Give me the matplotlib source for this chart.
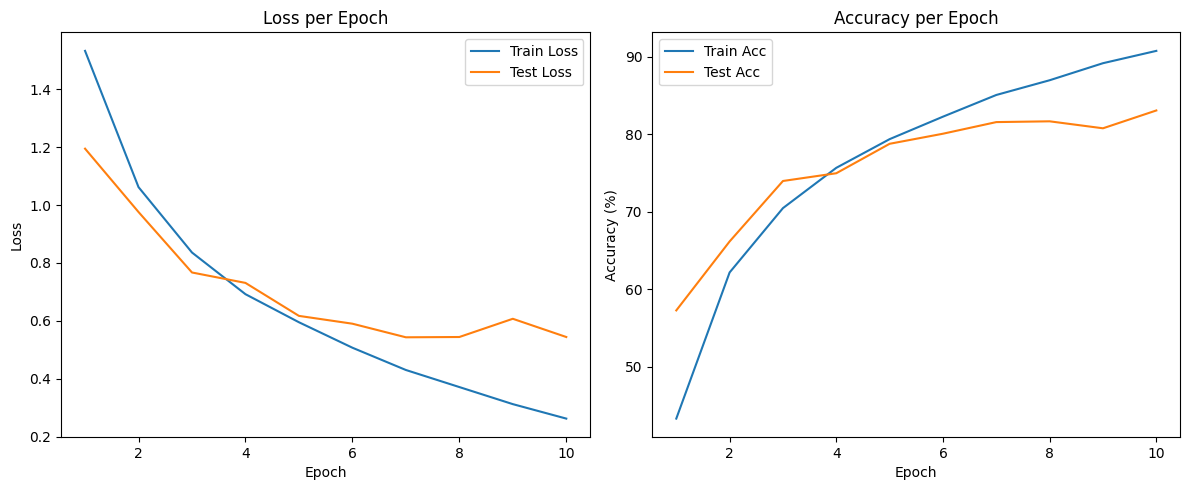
import numpy as np
import matplotlib
matplotlib.use('Agg')
import matplotlib.pyplot as plt

epochs = [1, 2, 3, 4, 5, 6, 7, 8, 9, 10]
train_loss = [1.533, 1.062, 0.836, 0.692, 0.595, 0.507, 0.430, 0.371, 0.312, 0.262]
test_loss = [1.195, 0.976, 0.767, 0.731, 0.617, 0.590, 0.543, 0.544, 0.607, 0.544]
train_acc = [43.34, 62.2, 70.5, 75.7, 79.4, 82.3, 85.1, 87.0, 89.2, 90.79]
test_acc = [57.3, 66.2, 74.0, 75.0, 78.8, 80.1, 81.6, 81.7, 80.8, 83.1]

fig = plt.figure(figsize=(11.89, 4.9))

# axes placed to match the reference layout
ax1 = fig.add_axes([0.0513, 0.1082, 0.4452, 0.8255])
ax1.plot(epochs, train_loss, label='Train Loss')
ax1.plot(epochs, test_loss, label='Test Loss')
ax1.set_xlabel('Epoch')
ax1.set_ylabel('Loss')
ax1.set_title('Loss per Epoch')
ax1.legend()

ax2 = fig.add_axes([0.5486, 0.1082, 0.4441, 0.8255])
ax2.plot(epochs, train_acc, label='Train Acc')
ax2.plot(epochs, test_acc, label='Test Acc')
ax2.set_xlabel('Epoch')
ax2.set_ylabel('Accuracy (%)')
ax2.set_title('Accuracy per Epoch')
ax2.legend()

fig.savefig('out.png', dpi=100)
